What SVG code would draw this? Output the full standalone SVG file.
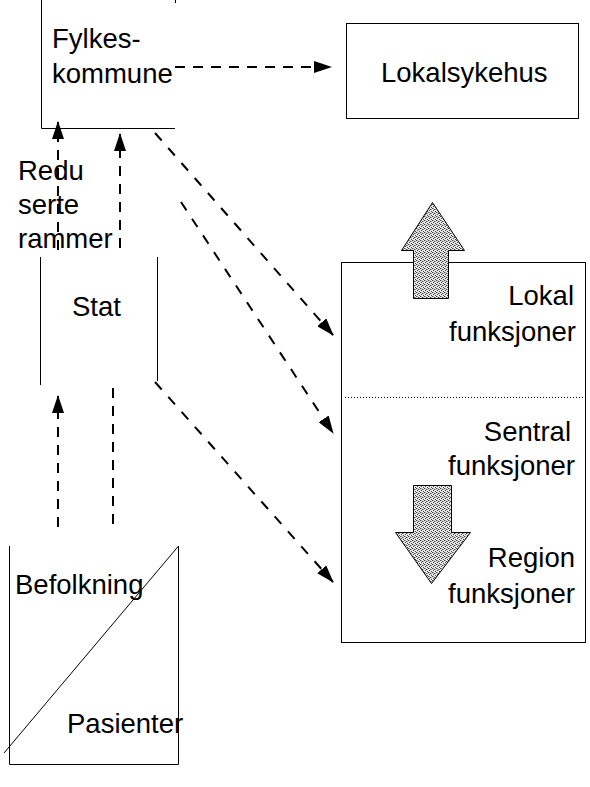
<svg xmlns="http://www.w3.org/2000/svg" width="590" height="787" viewBox="0 0 590 787">
<defs>
<style>
text{font-family:"Liberation Sans",Arial,sans-serif;font-size:27.5px;fill:#000}
.box{fill:none;stroke:#000;stroke-width:1}
.dash{fill:none;stroke:#000;stroke-width:2;stroke-dasharray:10 8}
.ddash{fill:none;stroke:#000;stroke-width:2;stroke-dasharray:10 10}
.big{stroke:#000;stroke-width:1;fill:url(#stip)}
</style>
<pattern id="stip" width="4" height="4" patternUnits="userSpaceOnUse">
<rect width="4" height="4" fill="#e8e8e8"/>
<rect x="0" y="0" width="1" height="1" fill="#444"/>
<rect x="2" y="1" width="1" height="1" fill="#444"/>
<rect x="1" y="2" width="1" height="1" fill="#444"/>
<rect x="3" y="3" width="1" height="1" fill="#444"/>
<rect x="3" y="1" width="1" height="1" fill="#999"/>
<rect x="1" y="0" width="1" height="1" fill="#999"/>
</pattern>
<marker id="ah" viewBox="0 0 18 12" refX="17" refY="6" markerWidth="18" markerHeight="12" markerUnits="userSpaceOnUse" orient="auto">
<path d="M0,0 L18,6 L0,12 Z" fill="#000"/>
</marker>
</defs>

<g id="fylkeskommune">
<path class="box" d="M41.5,0 V128.5 H175"/>
<path class="box" d="M175.5,0 V3"/>
<text x="52" y="48">Fylkes-</text>
<text x="52" y="83">kommune</text>
</g>

<g id="lokalsykehus">
<rect class="box" x="346.5" y="23.5" width="232" height="95"/>
<text x="381" y="82">Lokalsykehus</text>
</g>

<g id="reduserte">
<text x="18" y="180">Redu</text>
<text x="18" y="214">serte</text>
<text x="18" y="248">rammer</text>
</g>

<g id="stat">
<path class="box" d="M40.5,257 V385"/>
<path class="box" d="M157.5,257 V381"/>
<text x="72" y="316">Stat</text>
</g>

<g id="befolkning">
<path class="box" d="M9.5,546 V764.5 H178.5 V546"/>
<path class="box" d="M178.5,546 L4,753"/>
<text x="15" y="594">Befolkning</text>
<text x="67" y="733">Pasienter</text>
</g>

<g id="funksjoner">
<rect class="box" x="341.5" y="262.5" width="244" height="380"/>
<path d="M345,397.5 H585" fill="none" stroke="#000" stroke-width="1" stroke-dasharray="1 2"/>
<path class="big" d="M413.5,298.5 V250.5 H401.5 L432.5,202.5 L464.5,250.5 H448.5 V298.5 Z"/>
<path class="big" d="M413.5,485.5 H451.5 V532.5 H470.5 L431.5,583.5 L395.5,532.5 H413.5 Z"/>
<text x="574" y="305" text-anchor="end">Lokal</text>
<text x="576" y="341" text-anchor="end">funksjoner</text>
<text x="571" y="441" text-anchor="end">Sentral</text>
<text x="575" y="475" text-anchor="end">funksjoner</text>
<text x="575" y="567" text-anchor="end">Region</text>
<text x="575" y="603" text-anchor="end">funksjoner</text>
</g>

<g id="connectors">
<path class="dash" d="M175,67 H331" marker-end="url(#ah)"/>
<path class="dash" d="M58,250 V122" marker-end="url(#ah)"/>
<path class="dash" d="M120,248 V134" marker-end="url(#ah)"/>
<path class="dash" d="M58,527 V396" marker-end="url(#ah)"/>
<path class="dash" d="M113,388 V529"/>
<path class="ddash" d="M155,133 L333,335" marker-end="url(#ah)"/>
<path class="ddash" d="M181,202 L333,433" marker-end="url(#ah)"/>
<path class="ddash" d="M155,382 L333,582" marker-end="url(#ah)"/>
</g>
</svg>
